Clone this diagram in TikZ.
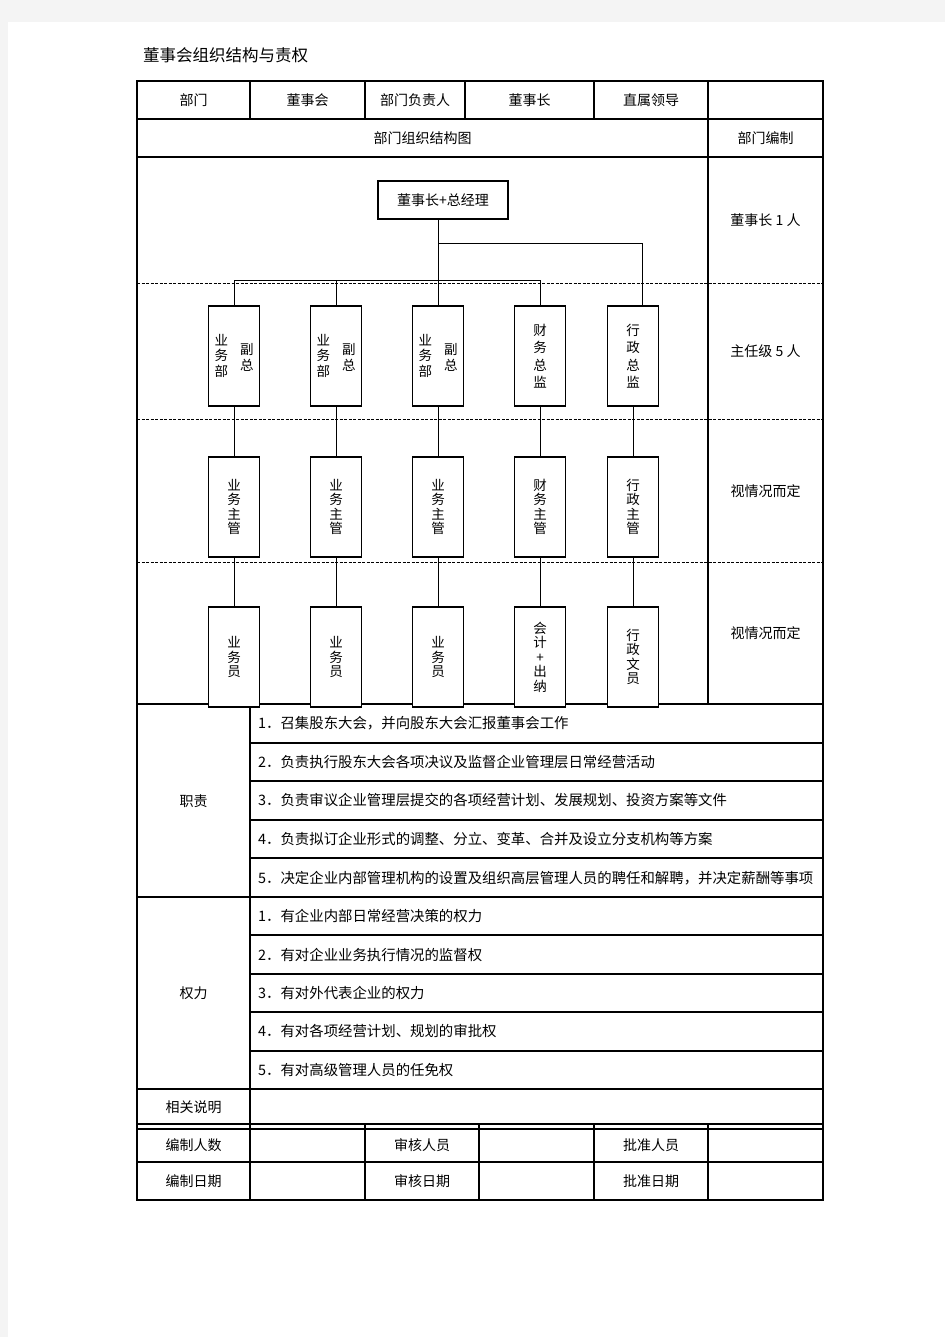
\documentclass[tikz,border=0pt]{standalone}
\usepackage{fontspec}
\newfontfamily\cjk{Noto Sans CJK SC}
\definecolor{pagegray}{HTML}{F4F4F4}

\begin{document}
\begin{tikzpicture}[x=1pt, y=-1pt, font=\cjk\fontsize{14}{16}\selectfont,
  rule/.style={line width=1.1pt},
  link/.style={line width=0.8pt},
  split/.style={line width=0.8pt, dash pattern=on 3pt off 1.5pt},
  unit/.style={draw, fill=white, line width=1.1pt, minimum width=51pt, minimum height=100pt, inner sep=0pt, align=center, font=\cjk\fontsize{13.5}{14.5}\selectfont},
  chief/.style={font=\cjk\fontsize{13.5}{17.5}\selectfont},
  item/.style={anchor=west, inner sep=0pt, font=\cjk\fontsize{14.4}{16}\selectfont}]

\fill[pagegray] (0,0) rectangle (945,1337);
\fill[white] (8,22) rectangle (945,1337);
\useasboundingbox (0,0) rectangle (945,1337);

\node[anchor=west, inner sep=0pt, font=\cjk\fontsize{16.5}{18}\selectfont] (title) at (143,55) {董事会组织结构与责权};

% table frame
\begin{scope}
\draw[rule] (137,81) rectangle (823,1200);
\foreach \y in {119,157,704,897,1089,1124,1129,1162} \draw[rule] (137,\y) -- (823,\y);
\foreach \y in {743,781,820,858,935,974,1012,1051} \draw[rule] (250,\y) -- (823,\y);
\foreach \y in {283,419,562} \draw[split] (137,\y) -- (823,\y);
\foreach \x in {250,365,465,594} \draw[rule] (\x,81) -- (\x,119);
\draw[rule] (708,81) -- (708,704);
\draw[rule] (250,704) -- (250,1200);
\foreach \x in {365,479,594,708} \draw[rule] (\x,1124) -- (\x,1200);
\end{scope}

\node (dept) at (193.5,100) {部门};
\node (deptname) at (307.5,100) {董事会};
\node (head) at (415,100) {部门负责人};
\node (headname) at (529.5,100) {董事长};
\node (boss) at (651,100) {直属领导};
\node (chart) at (422.5,138) {部门组织结构图};
\node (quota) at (765.5,138) {部门编制};

\node (q1) at (765.5,220) {董事长 1 人};
\node (q2) at (765.5,351) {主任级 5 人};
\node (q3) at (765.5,491) {视情况而定};
\node (q4) at (765.5,633) {视情况而定};

% org chart
\node[unit, minimum width=130pt, minimum height=38pt, font=\cjk\fontsize{14}{16}\selectfont] (top) at (443,200) {董事长+总经理};

\node[unit] (b1) at (234,356) {\shortstack{业\\务\\部}\hspace{12pt}\raisebox{6pt}{\shortstack{副\\总}}};
\node[unit] (b2) at (336,356) {\shortstack{业\\务\\部}\hspace{12pt}\raisebox{6pt}{\shortstack{副\\总}}};
\node[unit] (b3) at (438,356) {\shortstack{业\\务\\部}\hspace{12pt}\raisebox{6pt}{\shortstack{副\\总}}};
\node[unit, chief] (b4) at (540,356) {财\\务\\总\\监};
\node[unit, chief] (b5) at (633,356) {行\\政\\总\\监};

\node[unit] (c1) at (234,507) {业\\务\\主\\管};
\node[unit] (c2) at (336,507) {业\\务\\主\\管};
\node[unit] (c3) at (438,507) {业\\务\\主\\管};
\node[unit] (c4) at (540,507) {财\\务\\主\\管};
\node[unit] (c5) at (633,507) {行\\政\\主\\管};

\node[unit] (d1) at (234,657) {业\\务\\员};
\node[unit] (d2) at (336,657) {业\\务\\员};
\node[unit] (d3) at (438,657) {业\\务\\员};
\node[unit] (d4) at (540,657) {会\\计\\+\\出\\纳};
\node[unit] (d5) at (633,657) {行\\政\\文\\员};

\coordinate (fork) at (438,243);
\coordinate (bus) at (438,280);
\draw[link] (top.south -| b3.north) -- (b3.north);
\draw[link] (fork) -| ([xshift=9pt]b5.north);
\draw[link] (b1.north) |- (bus -| b4.north) -- (b4.north);
\draw[link] (b2.north) -- (b2.north |- bus);
\foreach \i in {1,...,5} {
  \draw[link] (b\i.south) -- (c\i.north);
  \draw[link] (c\i.south) -- (d\i.north);
}

% duties and powers
\node (duty) at (193.5,801) {职责};
\foreach \t [count=\i] in {召集股东大会，并向股东大会汇报董事会工作,
  负责执行股东大会各项决议及监督企业管理层日常经营活动,
  负责审议企业管理层提交的各项经营计划、发展规划、投资方案等文件,
  负责拟订企业形式的调整、分立、变革、合并及设立分支机构等方案,
  决定企业内部管理机构的设置及组织高层管理人员的聘任和解聘，并决定薪酬等事项}
  \node[item] (duty\i) at ({258},{704+38.6*(\i-0.5)}) {\i．\t};

\node (power) at (193.5,993) {权力};
\foreach \t [count=\i] in {有企业内部日常经营决策的权力,
  有对企业业务执行情况的监督权,
  有对外代表企业的权力,
  有对各项经营计划、规划的审批权,
  有对高级管理人员的任免权}
  \node[item] (power\i) at ({258},{897+38.4*(\i-0.5)}) {\i．\t};

\node (note) at (193.5,1107) {相关说明};
\node (count) at (193.5,1145) {编制人数};
\node (checker) at (422,1145) {审核人员};
\node (approver) at (651,1145) {批准人员};
\node (date) at (193.5,1181) {编制日期};
\node (checkdate) at (422,1181) {审核日期};
\node (approvedate) at (651,1181) {批准日期};

\end{tikzpicture}
\end{document}
